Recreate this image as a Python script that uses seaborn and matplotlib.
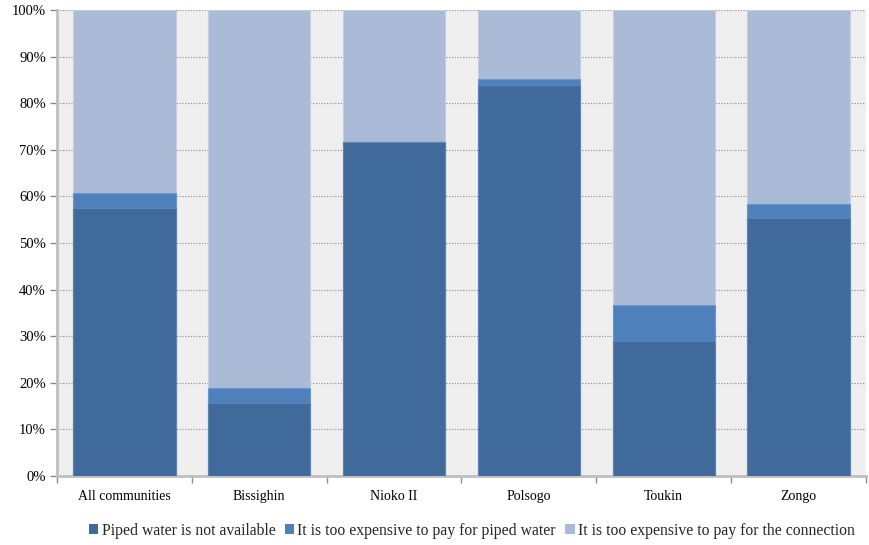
import matplotlib
matplotlib.use("Agg")
import matplotlib.pyplot as plt
from matplotlib.patches import Patch
from matplotlib.ticker import PercentFormatter, FixedLocator
import numpy as np
import pandas as pd
import seaborn as sns

communities = ["All communities", "Bissighin", "Nioko II", "Polsogo", "Toukin", "Zongo"]
not_available = [57.6, 15.7, 71.6, 84.0, 28.9, 55.3]
too_expensive_water = [3.1, 3.2, 0.0, 1.3, 7.9, 3.1]
too_expensive_connection = [39.3, 81.1, 28.4, 14.7, 63.2, 41.6]

series_names = [
    "Piped water is not available",
    "It is too expensive to pay for piped water",
    "It is too expensive to pay for the connection",
]
series_colors = ["#3F6A9B", "#4E80BC", "#AABAD7"]
edge_colors = ["#5E84B0", "#6E97C9", "#C3CEE3"]

sns.set_theme(style="white")
plt.rcParams["font.family"] = ["Liberation Serif", "DejaVu Serif"]

fig = plt.figure(figsize=(8.69, 5.45), dpi=100)
ax = fig.add_axes([57 / 869, 1 - 476 / 545, 809 / 869, 466 / 545])
ax.set_facecolor("#EFEFEF")

df = pd.DataFrame({
    "community": communities,
    "s1": not_available,
    "s2": too_expensive_water,
    "s3": too_expensive_connection,
})
df["c1"] = df["s1"]
df["c2"] = df["s1"] + df["s2"]
df["c3"] = df["s1"] + df["s2"] + df["s3"]

# Stacked bars: draw cumulative totals back to front
for col, color, ec in zip(["c3", "c2", "c1"], series_colors[::-1], edge_colors[::-1]):
    sns.barplot(data=df, x="community", y=col, color=color, width=0.76,
                edgecolor=ec, linewidth=0.8, ax=ax, saturation=1, zorder=3)

ax.set_xlim(-0.5, len(communities) - 0.5)
ax.set_ylim(0, 100)
ax.set_xlabel("")
ax.set_ylabel("")

ax.yaxis.set_major_locator(FixedLocator(np.arange(0, 101, 10)))
ax.yaxis.set_major_formatter(PercentFormatter(decimals=0))
ax.grid(axis="y", color="#8C8C8C", linestyle=(0, (1, 1.5)), linewidth=0.8, zorder=1)
ax.grid(axis="x", visible=False)

ax.set_xticks(range(len(communities)))
ax.set_xticklabels(communities)
ax.set_xticks(np.arange(-0.5, len(communities), 1), minor=True)
ax.tick_params(axis="x", which="major", length=0, labelsize=10, pad=10, colors="#000000")
ax.tick_params(axis="x", which="minor", length=5, width=1, color="#8C8C8C", direction="out", bottom=True)
ax.tick_params(axis="y", which="major", length=5, width=1, color="#8C8C8C", direction="out",
               labelsize=10.5, pad=3, left=True, labelcolor="#000000")

for side in ["top", "right"]:
    ax.spines[side].set_visible(False)
for side in ["left", "bottom"]:
    ax.spines[side].set_visible(True)
    ax.spines[side].set_color("#BFBFBF")
    ax.spines[side].set_linewidth(2)

handles = [Patch(facecolor=c, edgecolor="none") for c in series_colors]
fig.legend(handles, series_names, loc="center", bbox_to_anchor=(0.543, 1 - 531 / 545),
           ncol=3, frameon=False, fontsize=11.3, handlelength=0.6, handleheight=0.6,
           handletextpad=0.2, columnspacing=0.6)

fig.savefig("out.png", dpi=100)
